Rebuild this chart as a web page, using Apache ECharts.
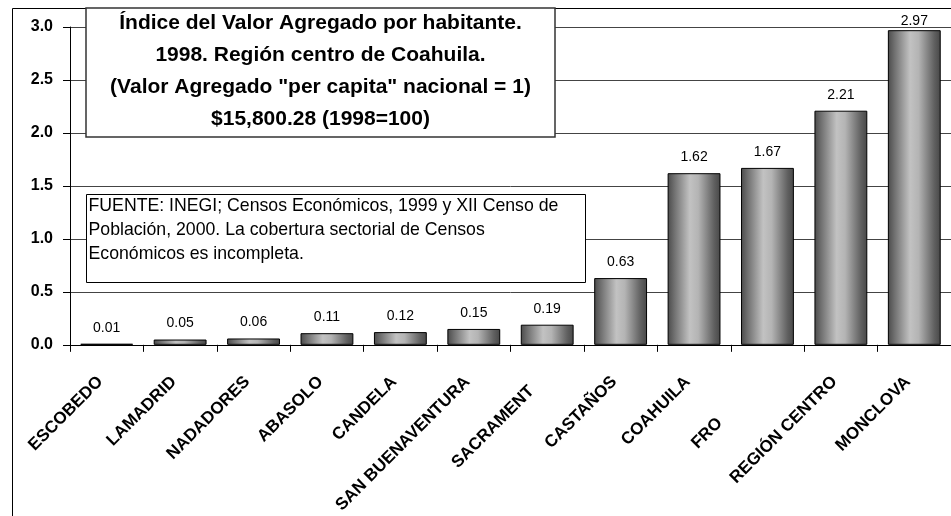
<!DOCTYPE html>
<html>
<head>
<meta charset="utf-8">
<script src="https://cdn.jsdelivr.net/npm/echarts@6/dist/echarts.min.js"></script>
<style>
html,body{margin:0;padding:0;background:#fff;}
#chart{width:951px;height:516px;}
</style>
</head>
<body>
<div id="chart"></div>
<script>
// ---- data ----
const categories = ['ESCOBEDO','LAMADRID','NADADORES','ABASOLO','CANDELA','SAN BUENAVENTURA','SACRAMENTO','CASTAÑOS','COAHUILA','FRONTERA','REGIÓN CENTRO','MONCLOVA'];
const values = [0.01, 0.05, 0.06, 0.11, 0.12, 0.15, 0.19, 0.63, 1.62, 1.67, 2.21, 2.97];
// number of visible characters of clipped tick labels in the original
const visibleChars = {'SACRAMENTO': 9, 'FRONTERA': 3};
const yTicks = [0, 0.5, 1.0, 1.5, 2.0, 2.5, 3.0];
const titleLines = ['Índice del Valor Agregado por habitante.', '1998. Región centro de Coahuila.', '(Valor Agregado "per capita" nacional = 1)', '$15,800.28 (1998=100)'];
const sourceLines = ['FUENTE: INEGI; Censos Económicos, 1999 y XII Censo de', 'Población, 2000. La cobertura sectorial de Censos', 'Económicos es incompleta.'];

const FONT = '"Liberation Sans", Arial, sans-serif';
const chart = echarts.init(document.getElementById('chart'), null, {renderer: 'canvas'});

const barGradient = new echarts.graphic.LinearGradient(0, 0, 1, 0, [
  {offset: 0, color: '#4a4a4a'},
  {offset: 0.12, color: '#6e6e6e'},
  {offset: 0.42, color: '#c2c2c2'},
  {offset: 0.58, color: '#b4b4b4'},
  {offset: 0.88, color: '#606060'},
  {offset: 1, color: '#474747'}
]);

const yMax = yTicks[yTicks.length - 1];

chart.setOption({
  animation: false,
  backgroundColor: '#ffffff',
  grid: {left: 70, top: 27, width: 884, height: 319, containLabel: false},
  xAxis: {
    type: 'category',
    data: categories,
    axisLine: {show: true, lineStyle: {color: '#000', width: 1}},
    axisTick: {show: true, length: 7, lineStyle: {color: '#000'}},
    axisLabel: {
      interval: 0,
      rotate: 45,
      margin: 28,
      padding: [0, 9, 0, 0],
      color: '#000',
      fontFamily: FONT,
      fontWeight: 'bold',
      fontSize: 17,
      formatter: function (v) {
        if (visibleChars[v] !== undefined) {
          return v.slice(0, visibleChars[v]) + '{h|' + v.slice(visibleChars[v]) + '}';
        }
        return v;
      },
      rich: {h: {color: 'rgba(0,0,0,0)', fontFamily: FONT, fontWeight: 'bold', fontSize: 17}}
    }
  },
  yAxis: {
    type: 'value',
    min: yTicks[0],
    max: yMax,
    interval: 0.5,
    axisLine: {show: true, lineStyle: {color: '#000', width: 1}},
    axisTick: {show: true, length: 7, lineStyle: {color: '#000'}},
    splitLine: {show: true, lineStyle: {color: '#444', width: 1}},
    axisLabel: {
      margin: 17,
      color: '#000',
      fontFamily: FONT,
      fontWeight: 'bold',
      fontSize: 16,
      formatter: function (v) { return v.toFixed(1); }
    }
  },
  series: [{
    type: 'bar',
    data: values.map(function (v) {
      // labels of bars reaching the top of the plot stay inside it
      return v > yMax * 0.95 ? {value: v, label: {distance: 2}} : v;
    }),
    barCategoryGap: '28%',
    itemStyle: {color: barGradient, borderColor: '#000', borderWidth: 1},
    label: {
      show: true,
      position: 'top',
      distance: 9,
      color: '#000',
      fontFamily: FONT,
      fontSize: 14,
      formatter: function (p) { return p.value.toFixed(2); }
    }
  }],
  graphic: [
    {type: 'rect', silent: true, z: 50, shape: {x: 12.5, y: 8.5, width: 1200, height: 800}, style: {fill: 'none', stroke: '#000', lineWidth: 1}},
    {type: 'rect', silent: true, z: 100, shape: {x: 86, y: 8, width: 469, height: 129}, style: {fill: '#fff', stroke: '#333', lineWidth: 1.5}},
    {type: 'text', silent: true, z: 101, x: 320.5, y: 71, style: {text: titleLines.join('\n'), fill: '#000', fontFamily: FONT, fontWeight: 'bold', fontSize: 21, lineHeight: 32, align: 'center', verticalAlign: 'middle'}},
    {type: 'rect', silent: true, z: 100, shape: {x: 86.5, y: 194.5, width: 499, height: 88}, style: {fill: '#fff', stroke: '#000', lineWidth: 1}},
    {type: 'text', silent: true, z: 101, x: 88.5, y: 230, style: {text: sourceLines.join('\n'), fill: '#000', fontFamily: FONT, fontSize: 17.7, lineHeight: 24, align: 'left', verticalAlign: 'middle'}}
  ]
});
</script>
</body>
</html>
